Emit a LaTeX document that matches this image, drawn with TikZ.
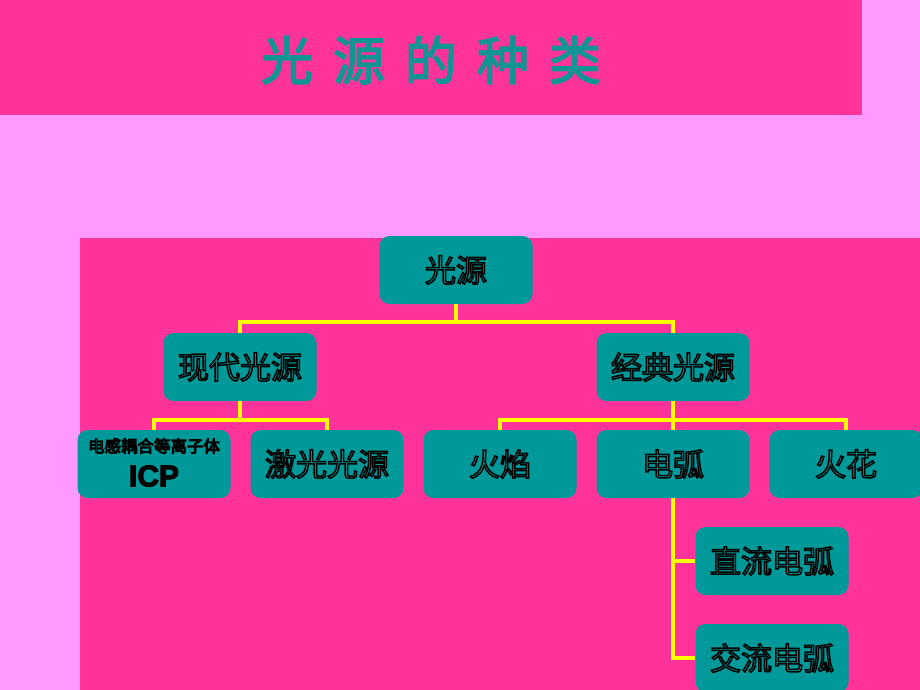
\documentclass[tikz,border=0pt]{standalone}
\usepackage{fontspec}
\setmainfont{Liberation Sans}
\newfontfamily\cjk{Noto Sans CJK SC}
\definecolor{bgpink}{HTML}{FF99FF}
\definecolor{hotpink}{HTML}{FF3399}
\definecolor{tealbox}{HTML}{009999}
\definecolor{titleteal}{HTML}{119494}
\definecolor{linkyel}{HTML}{FFFF00}
\newcommand\outl[2][1.5]{\special{pdf:literal direct 2 Tr 0 0 0 RG #1 w}#2\special{pdf:literal direct 0 Tr}}
\newcommand\thick[2][1.2]{\special{pdf:literal direct 2 Tr #1 w}#2\special{pdf:literal direct 0 Tr}}
\tikzset{
  box/.style={fill=tealbox, rounded corners=10pt, minimum width=153pt, minimum height=68pt,
    inner sep=0pt, text=tealbox, font=\cjk\fontsize{31}{33}\selectfont},
  link/.style={draw=linkyel, line width=4pt},
}
\begin{document}
\begin{tikzpicture}[x=1pt,y=-1pt]
\useasboundingbox (0,0) rectangle (920,690);
\clip (0,0) rectangle (920,690);
\fill[bgpink] (0,0) rectangle (920,690);
\fill[hotpink] (0,0) rectangle (862,115);
\fill[hotpink] (80,238) rectangle (920,690);
\node[text=titleteal, font=\cjk\fontsize{52}{56}\selectfont] (title) at (431,60)
  {\thick[1.6]{光\hspace{20pt}源\hspace{20pt}的\hspace{20pt}种\hspace{20pt}类}};
\node[box] (src) at (456,270) {\outl{光源}};
\node[box] (xd) at (240,367) {\outl{现代光源}};
\node[box] (jd) at (673,367) {\outl{经典光源}};
\node[box] (icp) at (154,464) {};
\node[text=tealbox, font=\cjk\fontsize{16.5}{18}\selectfont, inner sep=0pt] (icpcn) at (154,446) {\outl[1.0]{电感耦合等离子体}};
\node[text=black, font=\bfseries\fontsize{30}{32}\selectfont, inner sep=0pt] (icpen) at (154,476) {\outl[1.0]{ICP}};
\node[box] (jg) at (327,464) {\outl{激光光源}};
\node[box] (hy) at (500,464) {\outl{火焰}};
\node[box] (dh) at (673,464) {\outl{电弧}};
\node[box] (hh) at (846,464) {\outl{火花}};
\node[box] (zl) at (772,561) {\outl{直流电弧}};
\node[box] (jl) at (772,658) {\outl{交流电弧}};
\draw[link] (src.south) -- ++(0,18) -| (xd.north);
\draw[link] (src.south) -- ++(0,18) -| (jd.north);
\draw[link] (xd.south) -- ++(0,19) -| (icp.north);
\draw[link] (xd.south) -- ++(0,19) -| (jg.north);
\draw[link] (jd.south) -- ++(0,19) -| (hy.north);
\draw[link] (jd.south) -- ++(0,19) -| (hh.north);
\draw[link] (jd.south) -- (dh.north);
\draw[link] (dh.south) |- (zl.west);
\draw[link] (dh.south) |- (jl.west);
\end{tikzpicture}
\end{document}
